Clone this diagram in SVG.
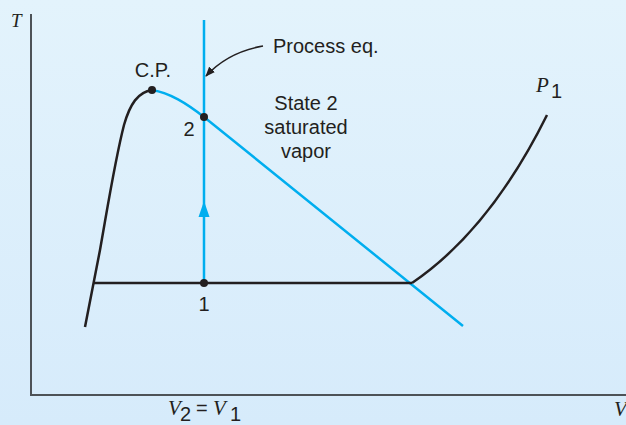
<svg xmlns="http://www.w3.org/2000/svg" width="626" height="425" viewBox="0 0 626 425">
<defs>
<linearGradient id="bg" x1="0" y1="0" x2="0" y2="1">
<stop offset="0" stop-color="#e3f3fc"/>
<stop offset="1" stop-color="#d6ebfb"/>
</linearGradient>
<marker id="arrBlk" markerWidth="10" markerHeight="8" refX="9" refY="4" orient="auto" markerUnits="userSpaceOnUse">
<path d="M0,0 L10,4 L0,8 z" fill="#231f20"/>
</marker>
</defs>
<style>
.sans{font-family:"Liberation Sans",Arial,sans-serif;fill:#231f20;font-size:20px}
.ital{font-family:"Liberation Serif","Times New Roman",serif;font-style:italic;fill:#231f20}
.blk{fill:none;stroke:#231f20;stroke-width:2.5}
.blu{fill:none;stroke:#00aeef;stroke-width:2.5}
.axis{fill:none;stroke:#4d5257;stroke-width:2}
.dot{fill:#231f20}
</style>
<rect width="626" height="425" fill="url(#bg)"/>
<g id="axes">
<path class="axis" d="M31,14 L31,395 L626,395"/>
<text class="ital" x="11" y="27" font-size="19">T</text>
<text class="ital" x="168" y="415" font-size="21">V</text>
<text class="sans" x="180" y="421" font-size="15">2</text>
<text class="sans" x="196" y="415" font-size="20">=</text>
<text class="ital" x="213" y="415" font-size="21">V</text>
<text class="sans" x="230" y="421" font-size="15">1</text>
<text class="ital" x="614" y="416" font-size="21">V</text>
</g>
<g id="connectors">
<path id="sat-liquid" class="blk" d="M85,327 L100,250 C108,205 115,160 124,125 C130,104 138,92 152,90"/>
<path id="sat-vapor" class="blu" d="M152,90 C170,93 186,103 204,117 L463,326"/>
<path id="isobar-liquid-vapor" class="blk" d="M93,283 L412,283"/>
<path id="isobar-vapor" class="blk" d="M412,283 Q490,230 547,115"/>
<path id="process" class="blu" d="M204,20 L204,283"/>
<path d="M204,201 L209.5,217 L198.5,217 z" fill="#00aeef"/>
<path id="process-label-arrow" fill="none" stroke="#231f20" stroke-width="1.5" d="M263,46 Q228,52 206,76" marker-end="url(#arrBlk)"/>
</g>
<g id="cp">
<circle class="dot" cx="152" cy="90" r="4"/>
<text class="sans" x="153" y="77" text-anchor="middle">C.P.</text>
</g>
<g id="state2">
<circle class="dot" cx="204" cy="117" r="4"/>
<text class="sans" x="189" y="136" text-anchor="middle">2</text>
<text class="sans" x="306" y="110" text-anchor="middle">State 2</text>
<text class="sans" x="306" y="134" text-anchor="middle">saturated</text>
<text class="sans" x="306" y="158" text-anchor="middle">vapor</text>
</g>
<g id="state1">
<circle class="dot" cx="204" cy="283" r="4"/>
<text class="sans" x="204" y="311" text-anchor="middle">1</text>
</g>
<g id="process-label">
<text class="sans" x="273" y="53">Process eq.</text>
</g>
<g id="p1-label">
<text class="ital" x="536" y="92" font-size="21">P</text>
<text class="sans" x="551" y="98" font-size="15">1</text>
</g>
</svg>
